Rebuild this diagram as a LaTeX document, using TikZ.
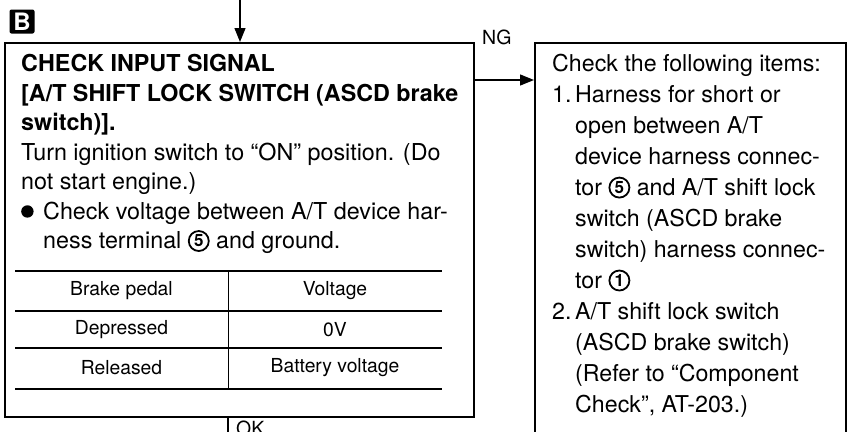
\documentclass[tikz,border=0pt]{standalone}
\usepackage{fontspec}
\setmainfont{TeX Gyre Heros}
\usetikzlibrary{arrows.meta}
\newcommand{\cnum}[1]{\tikz[baseline={([yshift=-2pt]cn.base)}]\node[draw,circle,line width=1.8pt,inner sep=0pt,minimum size=20pt,font=\fontsize{17}{17}\selectfont\bfseries](cn){#1};}
\newcommand{\bul}{\tikz[baseline=0pt]\fill (0,8pt) circle (6.2pt);}
\newcommand{\hang}[1]{\makebox[23pt][l]{#1}}
\newcommand{\bhang}[1]{\makebox[22pt][l]{#1}}
\tikzset{
  box/.style={draw,line width=1.5pt,inner sep=0pt,anchor=north west},
  txt/.style={anchor=north west,inner sep=0pt,align=left},
  cell/.style={inner sep=0pt,font=\fontsize{19.3}{22}\selectfont},
  flow/.style={line width=1.3pt,-{Triangle[length=14pt,width=11pt]}},
  plain/.style={line width=1.3pt},
  lbl/.style={inner sep=0pt,font=\fontsize{19.5}{22}\selectfont}
}
\begin{document}
\begin{tikzpicture}[x=1pt,y=-1pt]
\clip (0,0) rectangle (856,431);
\fill[white] (0,0) rectangle (856,431);
% boxes
\node[box,minimum width=469pt,minimum height=374pt] (lbox) at (4,42) {};
\node[box,minimum width=311pt,minimum height=420pt] (rbox) at (534,42) {};
% B icon
\node[fill=black,rounded corners=2pt,minimum width=25pt,minimum height=24pt,inner sep=0pt,
      text=white,font=\fontsize{24}{24}\selectfont\bfseries] (bicon) at (22,21.5) {B};
% left text
\node[txt,font=\fontsize{23.3}{29.5}\selectfont] (ltext) at (21,54.5) {%
\textbf{CHECK INPUT SIGNAL}\\
\textbf{[A/T SHIFT LOCK SWITCH (ASCD brake}\\
\textbf{switch)].}\\
Turn ignition switch to “ON” position. (Do\\
not start engine.)\\
\bhang{\bul}Check voltage between A/T device har-\\
\bhang{}ness terminal \cnum{5} and ground.};
% table
\draw[line width=2.5pt] (15,271) -- (442,271);
\draw[line width=1.5pt] (15,311) -- (442,311);
\draw[line width=1.5pt] (15,348) -- (442,348);
\draw[line width=2.5pt] (15,389) -- (442,389);
\draw[line width=1pt] (228,271) -- (228,389);
\node[cell] (h1) at (121.5,291) {Brake pedal};
\node[cell] (h2) at (335,291) {Voltage};
\node[cell] (r1a) at (121.5,330) {Depressed};
\node[cell] (r1b) at (335,330) {0V};
\node[cell] (r2a) at (121.5,368) {Released};
\node[cell] (r2b) at (335,368) {Battery voltage};
% right text
\node[txt,font=\fontsize{23.2}{31}\selectfont] (rtext) at (552,54) {%
Check the following items:\\
\hang{1.}Harness for short or\\
\hang{}open between A/T\\
\hang{}device harness connec-\\
\hang{}tor \cnum{5} and A/T shift lock\\
\hang{}switch (ASCD brake\\
\hang{}switch) harness connec-\\
\hang{}tor \cnum{1}\\
\hang{2.}A/T shift lock switch\\
\hang{}(ASCD brake switch)\\
\hang{}(Refer to “Component\\
\hang{}Check”, AT-203.)};
% connectors
\coordinate (incoming) at (240,0);
\draw[flow] (incoming) -- (incoming |- lbox.north);
\draw[flow] ([yshift=-38pt]lbox.north east) -- ([yshift=-38pt]rbox.north west);
\node[lbl,anchor=west] (ng) at (482,37) {NG};
\coordinate (okx) at (228,440);
\draw[plain] (okx |- lbox.south) -- (okx);
\node[lbl,anchor=north west] (ok) at (236,421) {OK};
\end{tikzpicture}
\end{document}
